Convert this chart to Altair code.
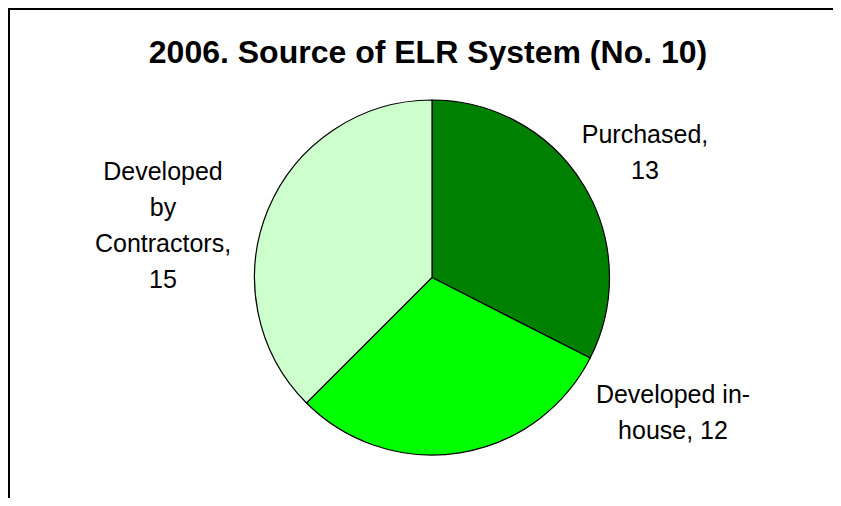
import altair as alt
import pandas as pd

# ---- data ----
categories = ["Purchased", "Developed in-house", "Developed by Contractors"]
values = [13, 12, 15]
colors = ["#008000", "#00FF00", "#CCFFCC"]
label_text = ["Purchased,\n13", "Developed in-\nhouse, 12", "Developed\nby\nContractors,\n15"]
title_text = "2006. Source of ELR System (No. 10)"

df = pd.DataFrame({
    "category": categories,
    "value": values,
    "idx": list(range(len(categories))),
    "label": label_text,
})

W, H = 825, 490
FONT = "Liberation Sans"

base = alt.Chart(df)

# frame (chart area border: left and top edges visible)
frame_top = alt.Chart(pd.DataFrame({"a": [0]})).mark_rule(color="black", strokeWidth=2).encode(
    x=alt.value(0), x2=alt.value(W), y=alt.value(1)
)
frame_left = alt.Chart(pd.DataFrame({"a": [0]})).mark_rule(color="black", strokeWidth=2).encode(
    x=alt.value(1), y=alt.value(0), y2=alt.value(H)
)

pie = base.mark_arc(outerRadius=177.5, stroke="black", strokeWidth=1.2).encode(
    theta=alt.Theta("value:Q", stack=True),
    color=alt.Color("category:N", scale=alt.Scale(domain=categories, range=colors), legend=None),
    order=alt.Order("idx:Q"),
    x=alt.value(424),
    y=alt.value(269.5),
)

title = alt.Chart(pd.DataFrame({"t": [title_text]})).mark_text(
    font=FONT, fontSize=32, fontWeight="bold", color="black", align="center", baseline="alphabetic"
).encode(text="t:N", x=alt.value(420), y=alt.value(55))

# first-line centre positions of the data labels
label_pos = {
    "Purchased": (637, 127),
    "Developed in-house": (665, 387),
    "Developed by Contractors": (155, 164),
}

labels = []
for cat in categories:
    lx, ly = label_pos[cat]
    labels.append(
        base.transform_filter(alt.datum.category == cat).mark_text(
            font=FONT, fontSize=25, color="black", align="center", baseline="middle",
            lineBreak="\n", lineHeight=36,
        ).encode(text="label:N", x=alt.value(lx), y=alt.value(ly))
    )

chart = alt.layer(frame_top, frame_left, pie, title, *labels).properties(
    width=W, height=H, autosize=alt.AutoSizeParams(type="none"), padding=0,
    background="white",
).configure_view(stroke=None)

chart.save("out.html", embed_options={"renderer": "svg", "actions": False})
